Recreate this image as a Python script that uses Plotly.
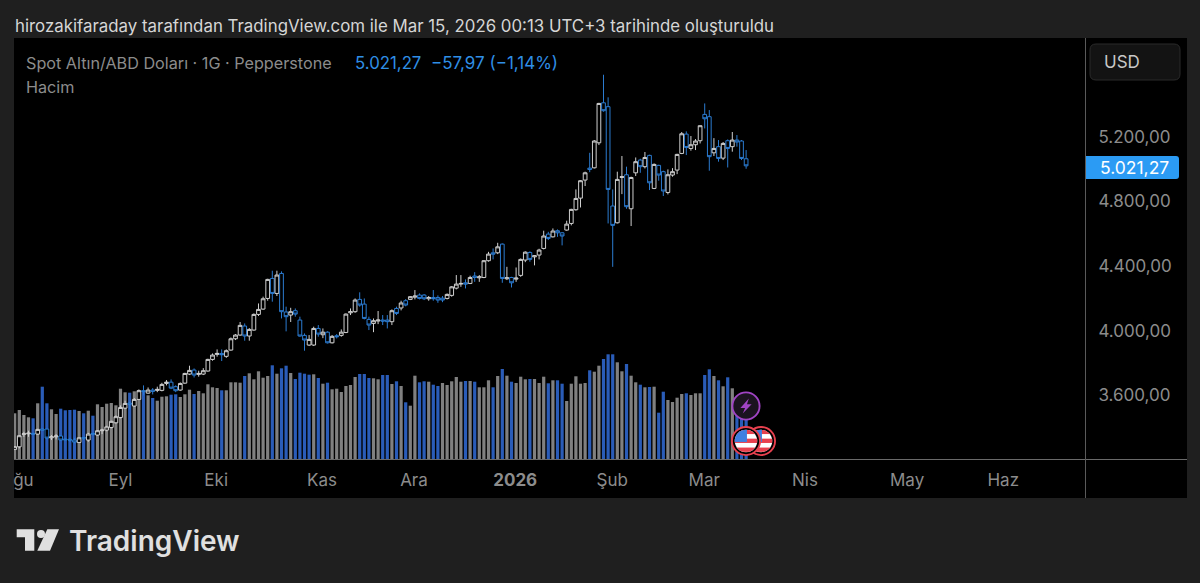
import base64
import plotly.graph_objects as go

# one candle per trading day
opens = [3263, 3279, 3356, 3360, 3362, 3358, 3389, 3389, 3335, 3341,
         3346, 3327, 3325, 3321, 3306, 3337, 3321, 3362, 3352, 3379,
         3383, 3399, 3428, 3461, 3519, 3550, 3532, 3573, 3627, 3612,
         3631, 3629, 3629, 3672, 3680, 3652, 3631, 3674, 3730, 3755,
         3728, 3730, 3749, 3821, 3852, 3858, 3840, 3879, 3949, 3972,
         4028, 3966, 4003, 4100, 4133, 4199, 4323, 4230, 4354, 4115,
         4096, 4123, 4065, 3970, 3910, 3910, 4013, 3974, 3990, 3924,
         3968, 3970, 3988, 4110, 4117, 4193, 4164, 4069, 4044, 4059,
         4065, 4065, 4055, 4137, 4140, 4185, 4193, 4207, 4220, 4220,
         4197, 4205, 4205, 4201, 4199, 4218, 4263, 4288, 4296, 4292,
         4338, 4327, 4329, 4433, 4482, 4482, 4536, 4321, 4329, 4319,
         4342, 4437, 4484, 4457, 4468, 4509, 4598, 4581, 4619, 4606,
         4623, 4664, 4749, 4821, 4933, 5007, 5009, 5164, 5412, 5388,
         4772, 4668, 4949, 4966, 4755, 4978, 5057, 5016, 5086, 4881,
         5024, 4985, 4856, 4964, 4995, 5098, 5218, 5129, 5152, 5177,
         5340, 5326, 5102, 5140, 5069, 5177, 5140, 5181, 5175, 5065]
highs = [3284, 3352, 3372, 3379, 3366, 3391, 3393, 3393, 3352, 3358,
         3350, 3331, 3335, 3335, 3339, 3341, 3366, 3366, 3383, 3391,
         3410, 3441, 3474, 3536, 3565, 3559, 3581, 3635, 3660, 3647,
         3643, 3652, 3676, 3693, 3697, 3660, 3678, 3738, 3782, 3765,
         3751, 3767, 3825, 3858, 3883, 3883, 3883, 3957, 3978, 4053,
         4044, 4015, 4106, 4168, 4210, 4321, 4371, 4371, 4367, 4148,
         4141, 4137, 4086, 3982, 3972, 4024, 4034, 4013, 3995, 3972,
         3978, 4007, 4106, 4137, 4199, 4237, 4199, 4086, 4075, 4121,
         4096, 4096, 4131, 4148, 4185, 4195, 4214, 4251, 4230, 4226,
         4214, 4251, 4218, 4214, 4230, 4276, 4344, 4344, 4317, 4340,
         4362, 4344, 4437, 4488, 4509, 4544, 4540, 4395, 4333, 4391,
         4447, 4491, 4491, 4468, 4507, 4619, 4612, 4633, 4627, 4610,
         4681, 4755, 4875, 4933, 4985, 5102, 5181, 5412, 5586, 5446,
         4875, 4985, 5082, 5016, 4954, 5073, 5065, 5107, 5090, 5036,
         5028, 4991, 4999, 5007, 5096, 5231, 5235, 5206, 5187, 5272,
         5408, 5367, 5193, 5181, 5169, 5185, 5231, 5212, 5181, 5119]
lows = [3259, 3269, 3341, 3341, 3354, 3354, 3379, 3325, 3321, 3325,
        3317, 3319, 3310, 3300, 3304, 3321, 3310, 3350, 3348, 3358,
        3375, 3393, 3424, 3455, 3513, 3511, 3528, 3569, 3598, 3608,
        3604, 3618, 3623, 3660, 3637, 3618, 3627, 3670, 3724, 3709,
        3714, 3724, 3745, 3813, 3838, 3811, 3831, 3875, 3941, 3968,
        3937, 3937, 3999, 4090, 4129, 4185, 4179, 4214, 4075, 3995,
        4053, 4086, 3962, 3875, 3904, 3904, 3962, 3953, 3920, 3920,
        3951, 3962, 3984, 4096, 4110, 4148, 4069, 4003, 3990, 4040,
        4034, 4013, 4034, 4096, 4125, 4150, 4189, 4193, 4193, 4189,
        4185, 4185, 4172, 4176, 4193, 4210, 4255, 4271, 4261, 4288,
        4302, 4302, 4325, 4427, 4441, 4474, 4296, 4313, 4267, 4302,
        4333, 4424, 4427, 4404, 4441, 4503, 4561, 4577, 4581, 4528,
        4619, 4652, 4743, 4763, 4896, 4982, 5005, 5150, 5357, 4664,
        4395, 4664, 4846, 4755, 4648, 4958, 4978, 5005, 4871, 4877,
        4929, 4834, 4844, 4954, 4970, 5094, 5088, 5115, 5119, 5160,
        5253, 4991, 5082, 5047, 5057, 5011, 5109, 5140, 5057, 5003]
closes = [3280, 3348, 3360, 3364, 3358, 3387, 3383, 3333, 3341, 3346,
          3321, 3323, 3321, 3308, 3335, 3333, 3358, 3358, 3379, 3383,
          3403, 3437, 3466, 3523, 3548, 3544, 3573, 3627, 3623, 3631,
          3623, 3635, 3666, 3680, 3643, 3627, 3672, 3734, 3753, 3724,
          3734, 3751, 3821, 3848, 3858, 3850, 3875, 3949, 3972, 4032,
          3966, 4007, 4100, 4131, 4197, 4317, 4230, 4344, 4117, 4086,
          4117, 4102, 3966, 3941, 3945, 4013, 3978, 3990, 3924, 3964,
          3962, 3990, 4102, 4117, 4189, 4158, 4075, 4034, 4061, 4065,
          4059, 4055, 4123, 4106, 4171, 4158, 4210, 4214, 4199, 4197,
          4205, 4197, 4189, 4189, 4224, 4271, 4288, 4292, 4288, 4329,
          4329, 4333, 4433, 4474, 4474, 4519, 4323, 4327, 4296, 4325,
          4441, 4486, 4441, 4464, 4499, 4586, 4571, 4617, 4606, 4586,
          4660, 4751, 4819, 4929, 4978, 4999, 5175, 5408, 5363, 4875,
          4652, 4937, 4954, 4768, 4949, 5047, 5016, 5073, 4916, 5030,
          4964, 4865, 4966, 4985, 5092, 5220, 5135, 5152, 5175, 5270,
          5313, 5078, 5129, 5067, 5160, 5129, 5181, 5169, 5067, 5021.27]

volumes = [45.7, 49, 44, 41.7, 40.7, 55.7, 72.3, 55.7, 49.7, 45,
           50.3, 48.7, 49, 49.3, 48, 45.7, 48.3, 43.3, 54.7, 52,
           55.3, 56, 53.7, 70.3, 66.7, 66.3, 67.7, 69, 68, 63.7,
           61, 58.3, 62.3, 62.7, 64.3, 64.7, 62, 64.7, 69.3, 65,
           68, 65.7, 74.7, 71.7, 71, 68.7, 68.7, 76.7, 76.7, 76.3,
           83, 85.7, 79.7, 87.7, 81.3, 83, 93.7, 85.3, 90.7, 93.3,
           86, 80, 86.3, 85.3, 84.3, 84.7, 81, 75.3, 76.3, 69.7,
           70.3, 67, 73, 74, 82, 85, 85, 81, 80.7, 79.7,
           84, 84, 75, 77.7, 73, 56.7, 53.3, 83.3, 76.7, 77.7,
           77.3, 74.3, 73, 76, 74, 77.7, 82, 77.3, 78, 78,
           77.3, 71.7, 71.7, 78.7, 71.7, 83, 90, 83.3, 77.3, 76,
           82.3, 79.7, 80, 80, 76, 82.3, 75.7, 78.7, 78.7, 75.3,
           58, 75.3, 82.7, 75.3, 76, 88.7, 87.3, 93.3, 100, 104.7,
           104.7, 96.7, 87.7, 95, 83.3, 76.7, 74.3, 71.7, 72, 72.3,
           46.3, 67.3, 59, 57, 61.3, 65, 65.7, 64, 65.7, 65.7,
           84, 89.7, 83, 78.7, 72.7, 81.7, 70.7, 47, 44, 44]
down_days = [4, 6, 7, 10, 11, 12, 13, 15, 17, 25, 28, 30, 34, 35, 39, 45, 50,
             56, 58, 59, 61, 62, 63, 64, 66, 68, 75, 76, 77, 80, 81, 83, 85,
             88, 89, 91, 92, 98, 100, 104, 106, 108, 112, 116, 118, 119, 125,
             128, 129, 130, 133, 136, 138, 140, 141, 146, 150, 151, 153, 155,
             157, 158, 159]

price_ticks = [3600, 4000, 4400, 4800, 5200]
price_labels = ["3.600,00", "4.000,00", "4.400,00", "4.800,00", "5.200,00"]
time_ticks = [1.9, 23, 43.8, 66.8, 86.8, 108.8, 129.9, 149.9, 171.8, 194, 214.9]
time_labels = ["ğu", "Eyl", "Eki", "Kas", "Ara", "<b>2026</b>", "Şub", "Mar", "Nis", "May", "Haz"]

days = list(range(len(closes)))

W, H = 1200, 583
LEFT, RIGHT, TOP, BOTTOM = 14, 1085, 38, 459
FONT = "Inter"


def px(x):
    return (x - LEFT) / (RIGHT - LEFT)


def py(y):
    return (BOTTOM - y) / (BOTTOM - TOP)


def box(x0, y0, x1, y1, **kw):
    return dict(type="rect", xref="paper", yref="paper", x0=px(x0), x1=px(x1),
                y0=py(y1), y1=py(y0), **kw)


def poly(points, color):
    d = "M " + " L ".join(f"{px(a)} {py(b)}" for a, b in points) + " Z"
    return dict(type="path", xref="paper", yref="paper", path=d,
                fillcolor=color, line=dict(width=0), layer="above")


def rounded(x0, y0, x1, y1, r_left, r_right, **kw):
    d = (f"M {px(x0 + r_left)} {py(y0)} L {px(x1 - r_right)} {py(y0)} "
         f"Q {px(x1)} {py(y0)} {px(x1)} {py(y0 + r_right)} L {px(x1)} {py(y1 - r_right)} "
         f"Q {px(x1)} {py(y1)} {px(x1 - r_right)} {py(y1)} L {px(x0 + r_left)} {py(y1)} "
         f"Q {px(x0)} {py(y1)} {px(x0)} {py(y1 - r_left)} L {px(x0)} {py(y0 + r_left)} "
         f"Q {px(x0)} {py(y0)} {px(x0 + r_left)} {py(y0)} Z")
    return dict(type="path", xref="paper", yref="paper", path=d, layer="above", **kw)


def label(x, y, text, color, size, anchor="left", **font):
    return dict(xref="paper", yref="paper", x=px(x), y=py(y), text=text, showarrow=False,
                xanchor=anchor, yanchor="middle", borderpad=0,
                font=dict(family=FONT, size=size, color=color, **font))


def icon(svg, x, y, size):
    src = "data:image/svg+xml;base64," + base64.b64encode(svg.encode()).decode()
    return dict(source=src, xref="paper", yref="paper", x=px(x), y=py(y),
                sizex=size / (RIGHT - LEFT), sizey=size / (BOTTOM - TOP),
                xanchor="center", yanchor="middle", sizing="stretch", layer="above")


FLAG = """<svg xmlns="http://www.w3.org/2000/svg" viewBox="0 0 32 32">
<defs><clipPath id="c"><circle cx="16" cy="16" r="12"/></clipPath></defs>
<circle cx="16" cy="16" r="15" fill="#000" stroke="#e8414f" stroke-width="2"/>
<g clip-path="url(#c)"><rect width="32" height="32" fill="#fff"/>
<rect y="4" width="32" height="4.6" fill="#e8414f"/>
<rect y="13.5" width="32" height="4.6" fill="#e8414f"/>
<rect y="23" width="32" height="4.6" fill="#e8414f"/>
<rect width="17" height="17" fill="#3f7fe0"/></g>
</svg>"""
BOLT = """<svg xmlns="http://www.w3.org/2000/svg" viewBox="0 0 32 32">
<circle cx="16" cy="16" r="14.5" fill="#1b1320" stroke="#a044c4" stroke-width="2"/>
<path d="M19 8 L10 18 L15 18 L12.5 24 L22 14 L17 14 Z" fill="#a044c4"/>
</svg>"""

fig = go.Figure()
fig.add_trace(go.Bar(x=days, y=volumes, yaxis="y",
                     marker=dict(color=["#2a5cb8" if d in down_days else "#808080" for d in days],
                                 line=dict(width=0))))
fig.add_trace(go.Candlestick(x=days, open=opens, high=highs, low=lows, close=closes, yaxis="y2",
                             whiskerwidth=0,
                             increasing=dict(line=dict(color="#cfcfcf", width=1), fillcolor="#000000"),
                             decreasing=dict(line=dict(color="#2b7bd0", width=1), fillcolor="#000000")))

shapes = [
    box(14, 38, 1187, 498, fillcolor="#000000", line=dict(width=0), layer="below"),
    box(14, 459, 1187, 460, fillcolor="#6a6a6a", line=dict(width=0), layer="above"),
    box(1085, 38, 1086, 498, fillcolor="#5a5a5a", line=dict(width=0), layer="above"),
    rounded(1090, 44, 1180, 80, 6, 6, fillcolor="#131313", line=dict(color="#2b2b2b", width=1)),
    rounded(1086, 156, 1179, 179, 0, 3, fillcolor="#2b9bf4", line=dict(width=0)),
    # TradingView logo
    poly([(16.7, 529.3), (34.3, 529.3), (34.3, 550.7), (25, 550.7), (25, 537.3), (16.7, 537.3)], "#e0e0e0"),
    poly([(47.3, 529.3), (59, 529.3), (50, 550.7), (37.3, 550.7)], "#e0e0e0"),
    dict(type="circle", xref="paper", yref="paper", x0=px(37), x1=px(45), y0=py(538), y1=py(530),
         fillcolor="#e0e0e0", line=dict(width=0), layer="above"),
]

annotations = [
    label(14, 26, "hirozakifaraday tarafından TradingView.com ile Mar 15, 2026 00:13 UTC+3 tarihinde oluşturuldu",
          "#d6d6d6", 16.85),
    label(25, 63, "Spot Altın/ABD Doları · 1G · Pepperstone", "#8c8c8c", 16.2),
    label(354, 63, "5.021,27", "#2f8fe6", 16.8),
    label(430, 63, "−57,97 (−1,14%)", "#2f8fe6", 17),
    label(25, 87, "Hacim", "#8c8c8c", 16.2),
    label(1103, 62, "USD", "#c8c8c8", 17),
    label(1134, 167.5, "5.021,27", "#ffffff", 17.5, anchor="center"),
    label(68, 541, "TradingView", "#e0e0e0", 28, weight=600),
]

fig.update_layout(
    width=W, height=H,
    margin=dict(l=LEFT, r=W - RIGHT, t=TOP, b=H - BOTTOM, pad=0),
    paper_bgcolor="#1f1f1f", plot_bgcolor="#000000",
    showlegend=False, bargap=0.3, boxgap=0.1, boxgroupgap=0.1, hovermode=False,
    xaxis=dict(type="linear", range=[-0.15, 232.67], rangeslider=dict(visible=False),
               tickmode="array", tickvals=time_ticks, ticktext=time_labels,
               ticks="outside", ticklen=6, tickcolor="rgba(0,0,0,0)",
               tickfont=dict(family=FONT, size=17, color="#8c8c8c"),
               showgrid=False, zeroline=False),
    yaxis=dict(range=[0, 421], visible=False, fixedrange=True),
    yaxis2=dict(range=[3203.6, 5813.8], overlaying="y", side="right", anchor="x",
                tickmode="array", tickvals=price_ticks, ticktext=price_labels,
                ticks="outside", ticklen=9, tickcolor="rgba(0,0,0,0)",
                tickfont=dict(family=FONT, size=17, color="#8c8c8c"),
                showgrid=False, zeroline=False),
    shapes=shapes,
    annotations=annotations,
    images=[icon(FLAG, 761, 441, 30), icon(FLAG, 746, 441, 30), icon(BOLT, 746, 406, 30)],
)

# the page body has a default margin that would push the figure off its place
fig.write_html("out.html", post_script="document.body.style.margin='0';",
               config=dict(displayModeBar=False))
